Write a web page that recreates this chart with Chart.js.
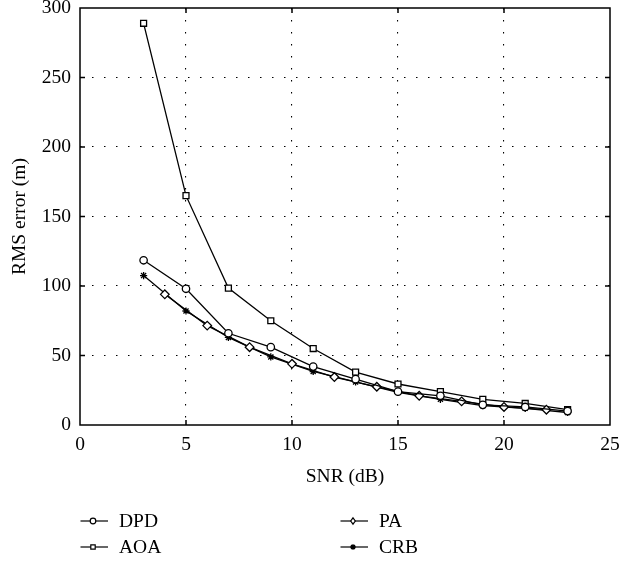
<!DOCTYPE html>
<html>
<head>
<meta charset="utf-8">
<script src="https://cdn.jsdelivr.net/npm/chart.js@4/dist/chart.umd.min.js"></script>
<style>
  html, body { margin: 0; padding: 0; background: #fff; }
  #wrap { width: 621px; height: 562px; position: relative; }
</style>
</head>
<body>
<div id="wrap"><canvas id="c" width="621" height="562"></canvas></div>
<script>
// ---- data ----
const snrOdd  = [3, 5, 7, 9, 11, 13, 15, 17, 19, 21, 23];
const snrEven = [4, 6, 8, 10, 12, 14, 16, 18, 20, 22];
const dpd = [118.5, 98, 66, 56, 42, 33, 24, 21, 14.5, 13, 10];
const aoa = [289, 165, 98.5, 75, 55, 38, 29.5, 24, 18.5, 15.5, 11];
const crb = [107.5, 82, 63, 49, 38.5, 31, 23.5, 18.5, 14, 12, 9];
const pa  = [94, 71.5, 56, 44, 34.5, 27.5, 21, 17, 13, 11];
const xTicks = [0, 5, 10, 15, 20, 25];
const yTicks = [0, 50, 100, 150, 200, 250, 300];
const seriesNames = ['DPD', 'PA', 'AOA', 'CRB'];

const FONT = "'Liberation Serif', 'DejaVu Serif', serif";
const toXY = (xs, ys) => xs.map((x, i) => ({x: x, y: ys[i]}));

function mk(label, data, style, radius) {
  return {
    label: label, data: data,
    borderColor: '#000', borderWidth: 1.3,
    pointStyle: style, pointRadius: radius, pointHoverRadius: radius,
    pointBorderColor: '#000', pointBackgroundColor: '#fff', pointBorderWidth: 1.3,
    fill: false, tension: 0
  };
}

function drawMarker(ctx, style, x, y, r) {
  ctx.save();
  ctx.strokeStyle = '#000'; ctx.fillStyle = '#fff'; ctx.lineWidth = 1.2;
  ctx.beginPath();
  if (style === 'circle') {
    ctx.arc(x, y, r, 0, Math.PI * 2); ctx.fill(); ctx.stroke();
  } else if (style === 'rect') {
    ctx.rect(x - r, y - r, 2 * r, 2 * r); ctx.fill(); ctx.stroke();
  } else if (style === 'rectRot') {
    ctx.moveTo(x, y - r * 1.4); ctx.lineTo(x + r, y); ctx.lineTo(x, y + r * 1.4); ctx.lineTo(x - r, y); ctx.closePath();
    ctx.fill(); ctx.stroke();
  } else if (style === 'star') {
    for (let k = 0; k < 4; k++) {
      const a = k * Math.PI / 4;
      ctx.moveTo(x - Math.cos(a) * r, y - Math.sin(a) * r);
      ctx.lineTo(x + Math.cos(a) * r, y + Math.sin(a) * r);
    }
    ctx.lineWidth = 1.4; ctx.stroke();
  }
  ctx.restore();
}

const frame = {
  id: 'frame',
  beforeDatasetsDraw(chart) {
    const {ctx, chartArea: a, scales: {x, y}} = chart;
    ctx.save();
    ctx.strokeStyle = '#000';
    ctx.lineWidth = 1.5;
    ctx.strokeRect(a.left, a.top, a.right - a.left, a.bottom - a.top);
    ctx.beginPath();
    xTicks.slice(1, -1).forEach(v => {
      const px = x.getPixelForValue(v);
      ctx.moveTo(px, a.bottom); ctx.lineTo(px, a.bottom - 5);
      ctx.moveTo(px, a.top); ctx.lineTo(px, a.top + 5);
    });
    yTicks.slice(1, -1).forEach(v => {
      const py = y.getPixelForValue(v);
      ctx.moveTo(a.left, py); ctx.lineTo(a.left + 5, py);
      ctx.moveTo(a.right, py); ctx.lineTo(a.right - 5, py);
    });
    ctx.stroke();
    ctx.restore();
  },
  afterDraw(chart) {
    const ctx = chart.ctx;
    const items = [
      {name: seriesNames[0], style: 'circle', r: 2.8, cx: 93, cy: 521},
      {name: seriesNames[2], style: 'rect', r: 2.2, cx: 93, cy: 547},
      {name: seriesNames[1], style: 'rectRot', r: 2.3, cx: 353, cy: 521},
      {name: seriesNames[3], style: 'star', r: 2.8, cx: 353, cy: 547}
    ];
    ctx.save();
    ctx.font = "19.5px " + FONT;
    ctx.fillStyle = '#000';
    ctx.textBaseline = 'middle';
    ctx.textAlign = 'left';
    items.forEach(it => {
      ctx.strokeStyle = '#000'; ctx.lineWidth = 1.2;
      ctx.beginPath(); ctx.moveTo(it.cx - 12.5, it.cy); ctx.lineTo(it.cx + 15, it.cy); ctx.stroke();
      drawMarker(ctx, it.style, it.cx, it.cy, it.r);
      ctx.fillText(it.name, it.cx + 26, it.cy + 1);
    });
    ctx.restore();
  }
};

const inner = (c) => (c.tick && (c.tick.value === c.scale.min || c.tick.value === c.scale.max)) ? 'rgba(0,0,0,0)' : '#000';

new Chart(document.getElementById('c'), {
  type: 'line',
  data: {
    datasets: [
      mk(seriesNames[0], toXY(snrOdd, dpd), 'circle', 3.7),
      mk(seriesNames[1], toXY(snrEven, pa), 'rectRot', 4.3),
      mk(seriesNames[2], toXY(snrOdd, aoa), 'rect', 4.2),
      mk(seriesNames[3], toXY(snrOdd, crb), 'star', 3.6)
    ]
  },
  options: {
    responsive: false,
    animation: false,
    layout: { padding: { left: 0, top: 8, right: 11, bottom: 73.6 } },
    plugins: { legend: { display: false }, tooltip: { enabled: false } },
    scales: {
      x: {
        type: 'linear', min: 0, max: 25,
        afterBuildTicks: (s) => { s.ticks = xTicks.map(v => ({value: v})); },
        afterFit: (s) => { s.height = 63.4; s.paddingRight = 0; s.paddingLeft = 0; },
        ticks: { color: '#000', font: { family: FONT, size: 19.5 }, padding: 8, maxRotation: 0 },
        grid: { color: inner, lineWidth: 1.1, drawTicks: false },
        border: { display: false, dash: [1.5, 10.5] },
        title: { display: true, text: 'SNR (dB)', color: '#000', font: { family: FONT, size: 19.5 }, padding: { top: 0, bottom: 0 } }
      },
      y: {
        type: 'linear', min: 0, max: 300,
        afterBuildTicks: (s) => { s.ticks = yTicks.map(v => ({value: v})); },
        afterFit: (s) => { s.width = 80; s.paddingTop = 0; s.paddingBottom = 0; },
        ticks: { color: '#000', font: { family: FONT, size: 19.5 }, padding: 9 },
        grid: { color: inner, lineWidth: 1.1, drawTicks: false },
        border: { display: false, dash: [1.5, 10.5] },
        title: { display: true, text: 'RMS error (m)', color: '#000', font: { family: FONT, size: 19.5 }, padding: { top: 8, bottom: 0 } }
      }
    }
  },
  plugins: [frame]
});
</script>
</body>
</html>
